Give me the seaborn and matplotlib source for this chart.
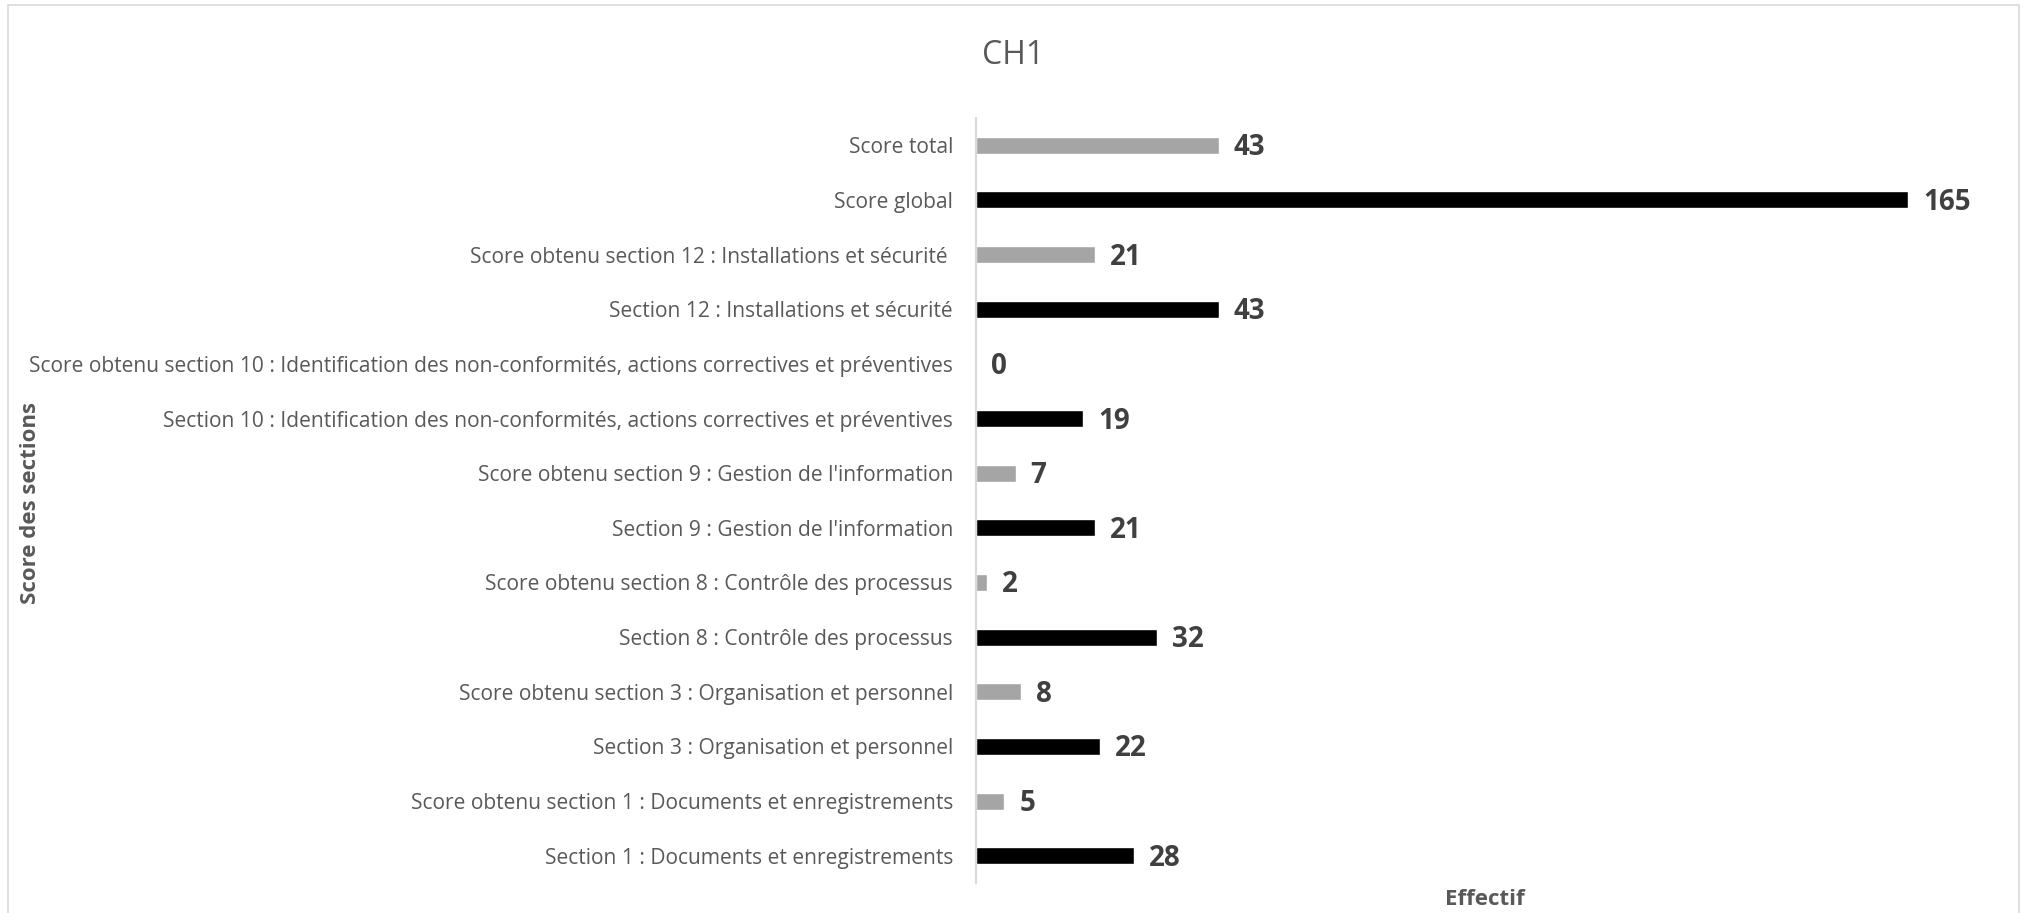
import matplotlib
matplotlib.use("Agg")
import matplotlib.pyplot as plt
import seaborn as sns
import pandas as pd
from matplotlib.patches import Rectangle

categories = [
    "Score total",
    "Score global",
    "Score obtenu section 12 : Installations et sécurité ",
    "Section 12 : Installations et sécurité",
    "Score obtenu section 10 : Identification des non-conformités, actions correctives et préventives",
    "Section 10 : Identification des non-conformités, actions correctives et préventives",
    "Score obtenu section 9 : Gestion de l'information",
    "Section 9 : Gestion de l'information",
    "Score obtenu section 8 : Contrôle des processus",
    "Section 8 : Contrôle des processus",
    "Score obtenu section 3 : Organisation et personnel",
    "Section 3 : Organisation et personnel",
    "Score obtenu section 1 : Documents et enregistrements",
    "Section 1 : Documents et enregistrements",
]
values = [43, 165, 21, 43, 0, 19, 7, 21, 2, 32, 8, 22, 5, 28]
kinds = ["obtenu", "max"] * 7
palette = {"obtenu": "#A5A5A5", "max": "#000000"}

title = "CH1"
xlabel = "Effectif"
ylabel = "Score des sections"

sns.set_theme(style="white")
plt.rcParams["font.family"] = ["Open Sans", "DejaVu Sans"]

W, H = 2024, 913
fig = plt.figure(figsize=(W / 100, H / 100), dpi=100)
fig.patch.set_facecolor("white")

ax_left, ax_right, ax_top, ax_bottom = 976, 1993, 118, 883
ax = fig.add_axes([ax_left / W, 1 - ax_bottom / H, (ax_right - ax_left) / W, (ax_bottom - ax_top) / H])

df = pd.DataFrame({"cat": categories, "val": values, "kind": kinds})
sns.barplot(data=df, x="val", y="cat", hue="kind", palette=palette, dodge=False,
            width=0.31, legend=False, ax=ax, order=categories, saturation=1)

ax.set_xlim(0, 180)
ax.set_ylim(len(categories) - 0.5, -0.5)
ax.set_xticks([])
ax.set_xlabel("")
ax.set_ylabel("")
for s in ["top", "right", "bottom"]:
    ax.spines[s].set_visible(False)
ax.spines["left"].set_color("#D9D9D9")
ax.spines["left"].set_linewidth(1.5)
ax.tick_params(axis="y", length=0, pad=16.5, colors="#595959")

# fit tick label font so the longest label is ~930 px wide
fig.canvas.draw()
r = fig.canvas.get_renderer()
probe = fig.text(0, 0, categories[4], fontsize=14)
wpx = probe.get_window_extent(renderer=r).width
probe.remove()
fs = 14 * 930 / wpx
for lab in ax.get_yticklabels():
    lab.set_fontsize(fs)
    lab.set_color("#595959")

vfs = 20
for i, v in enumerate(values):
    ax.annotate(str(v), xy=(v, i), xytext=(10.8, -0.36 * vfs), textcoords="offset points",
                ha="left", va="baseline", fontsize=vfs, fontweight="bold", color="#404040")

fig.text(1013 / W, 1 - 52 / H, title, ha="center", va="baseline", fontsize=23, color="#595959",
         transform=fig.transFigure)
# shift title so its cap-centre sits at y=52 px
fig.texts[-1].set_y(1 - (52 + 0.36 * 23 * 100 / 72) / H)
fig.text((ax_left + ax_right) / 2 / W, 1 - 899 / H, xlabel, ha="center", va="center",
         fontsize=16, fontweight="bold", color="#595959")
fig.text(31 / W, 1 - 503 / H, ylabel, ha="center", va="center", rotation=90,
         fontsize=16, fontweight="bold", color="#595959")

fig.patches.append(Rectangle((8 / W, -0.01), (2019 - 8) / W, 1 - 5 / H + 0.01,
                             transform=fig.transFigure, fill=False, edgecolor="#D9D9D9",
                             linewidth=1.2))

fig.savefig("out.png", dpi=100)
